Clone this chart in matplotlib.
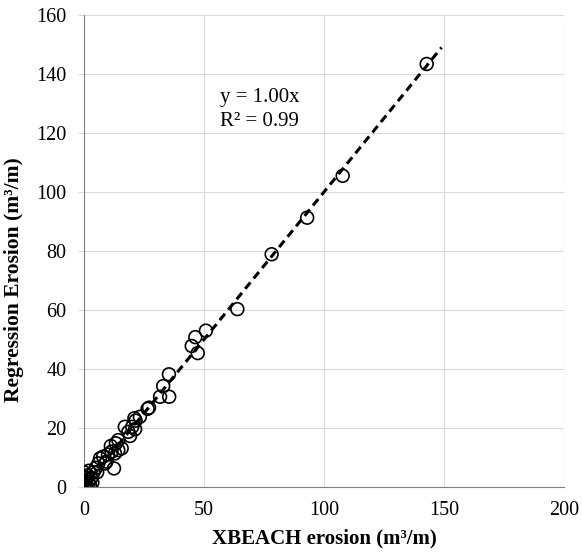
import matplotlib
matplotlib.use("Agg")
import matplotlib.pyplot as plt
import numpy as np

# XBEACH erosion vs regression erosion (m3/m)
xbeach = [0.0, 0.0, 0.0, 0.5, 1.0, 1.0, 1.5, 2.0, 2.5, 3.0, 0.5, 3.5, 2.0, 1.0, 0.0,
          4.0, 5.0, 5.5, 6.0, 6.7, 8.0, 8.8, 9.4, 12.5, 10.0, 11.5, 11.2, 12.9, 13.3,
          14.3, 14.3, 15.7, 17.0, 18.5, 19.2, 20.1, 21.3, 21.0, 21.5, 23.3, 26.5,
          27.1, 31.7, 35.5, 33.0, 35.4, 44.9, 46.4, 47.4, 50.8, 63.9, 78.2, 93.0,
          107.8, 142.8]
regression = [5.0, 3.5, 2.0, 1.0, 0.5, 2.5, 4.0, 1.5, 0.5, 3.0, 3.0, 1.5, 5.5, 1.0, 0.5,
              5.0, 6.5, 5.0, 8.0, 9.7, 10.3, 8.0, 8.6, 6.3, 11.0, 12.0, 13.9, 11.4, 14.8,
              12.5, 15.9, 13.1, 20.4, 18.7, 17.3, 20.4, 19.6, 23.3, 22.5, 23.8, 26.5,
              26.9, 30.6, 30.6, 34.2, 38.2, 47.8, 50.8, 45.4, 53.0, 60.3, 78.9, 91.3,
              105.5, 143.4]
slope = 1.00
trend_x = [0, 149]

plt.rcParams['font.family'] = ['Liberation Serif', 'DejaVu Serif']

fig = plt.figure(figsize=(5.82, 5.56), dpi=100)
ax = fig.add_axes([0.1443, 0.1241, 0.8247, 0.8489])

ax.scatter(xbeach, regression, s=85, facecolors='none', edgecolors='black',
           linewidths=1.2, zorder=3)
tx = np.array(trend_x)
ax.plot(tx, slope * tx, linestyle=(0, (2.7, 1.7)), color='black', linewidth=2.2, zorder=4)

ax.text(56.5, 128, 'y = 1.00x\nR² = 0.99', fontsize=15, va='center', ha='left',
        linespacing=1.35)

ax.set_xlim(0, 200)
ax.set_ylim(0, 160)
ax.set_xticks(range(0, 201, 50))
ax.set_yticks(range(0, 161, 20))
ax.grid(True, color='#d9d9d9', linewidth=0.8)
ax.set_axisbelow(True)

for s in ['top', 'right']:
    ax.spines[s].set_visible(False)
for s in ['left', 'bottom']:
    ax.spines[s].set_color('#808080')
    ax.spines[s].set_linewidth(0.8)

ax.tick_params(axis='x', length=0, pad=10, labelsize=14.5)
ax.tick_params(axis='y', length=4.5, color='#d9d9d9', pad=8, labelsize=14.5)

ax.set_xlabel('XBEACH erosion (m³/m)', fontsize=15, fontweight='bold', labelpad=6)
ax.set_ylabel('Regression Erosion (m³/m)', fontsize=15.5, fontweight='bold')
ax.yaxis.set_label_coords(-0.124, 0.44)

fig.savefig('out.png', dpi=100)
